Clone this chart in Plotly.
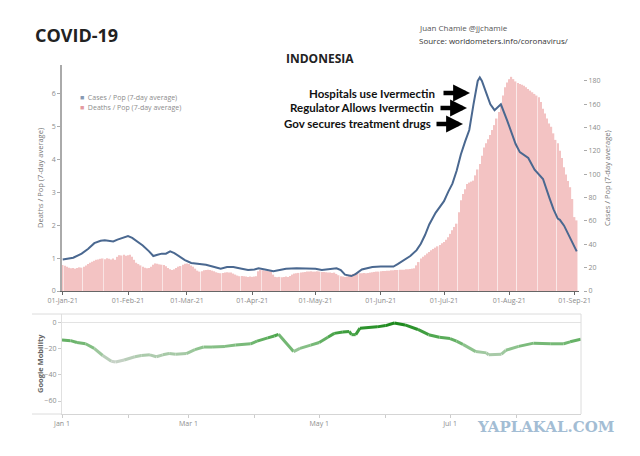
import plotly.graph_objects as go
import pandas as pd

# ---------------- data ----------------
start_date = "2021-01-01"
# Deaths per million (7-day average), daily from 01-Jan-21
deaths_per_million = [
    0.79,0.77,0.74,0.71,0.69,0.70,0.68,0.70,0.72,0.71,0.74,0.78,0.82,0.86,0.89,0.92,0.95,0.96,0.98,0.99,0.97,1.00,0.98,0.96,0.99,0.95,1.04,1.09,1.08,1.10,1.07,
    1.09,1.10,1.04,0.95,0.86,0.82,0.78,0.74,0.71,0.69,0.70,0.74,0.80,0.84,0.83,0.81,0.80,0.79,0.75,0.70,0.66,0.64,0.66,0.70,0.74,0.76,0.80,0.83,
    0.84,0.82,0.78,0.74,0.68,0.62,0.59,0.60,0.63,0.64,0.65,0.64,0.62,0.60,0.57,0.55,0.54,0.55,0.56,0.57,0.56,0.56,0.53,0.50,0.47,0.45,0.46,0.45,0.44,0.43,0.44,
    0.43,0.44,0.45,0.60,0.64,0.63,0.62,0.61,0.60,0.60,0.50,0.43,0.42,0.43,0.42,0.43,0.44,0.43,0.46,0.50,0.53,0.54,0.55,0.56,0.57,0.58,0.59,0.59,0.60,0.59,
    0.59,0.60,0.59,0.58,0.58,0.57,0.56,0.56,0.55,0.56,0.52,0.48,0.45,0.44,0.43,0.44,0.47,0.50,0.52,0.54,0.55,0.54,0.54,0.55,0.54,0.55,0.56,0.57,0.58,0.59,0.59,
    0.60,0.61,0.61,0.62,0.62,0.63,0.63,0.64,0.64,0.65,0.65,0.65,0.66,0.66,0.67,0.68,0.69,0.78,0.88,0.99,1.04,1.09,1.14,1.19,1.24,1.28,1.32,1.36,1.40,1.45,
    1.49,1.56,1.64,1.74,1.85,1.95,2.05,2.40,2.76,2.95,3.10,3.26,3.30,3.33,3.36,3.52,3.70,3.87,4.12,4.37,4.50,4.62,4.75,4.90,5.05,5.25,5.45,5.70,5.95,6.20,6.35,
    6.45,6.52,6.45,6.38,6.33,6.30,6.28,6.25,6.20,6.15,6.10,6.05,6.00,5.95,5.90,5.75,5.55,5.40,5.25,5.10,5.00,4.80,4.60,4.50,4.27,4.05,3.77,3.55,3.35,3.16,2.80,
    2.25,2.15,
]

# Cases per million (7-day average)
cases_dates = [
    "2021-01-01","2021-01-04","2021-01-06","2021-01-10","2021-01-13","2021-01-16","2021-01-19","2021-01-21","2021-01-23","2021-01-25",
    "2021-01-27","2021-01-30","2021-02-01","2021-02-03","2021-02-06","2021-02-08","2021-02-11","2021-02-13","2021-02-15","2021-02-17",
    "2021-02-19","2021-02-21","2021-02-23","2021-02-25","2021-02-28","2021-03-03","2021-03-07","2021-03-10","2021-03-14","2021-03-17",
    "2021-03-20","2021-03-23","2021-03-27","2021-03-30","2021-04-02","2021-04-04","2021-04-07","2021-04-11","2021-04-14","2021-04-17",
    "2021-04-22","2021-04-27","2021-05-01","2021-05-04","2021-05-08","2021-05-11","2021-05-13","2021-05-15","2021-05-18","2021-05-20",
    "2021-05-23","2021-05-28","2021-06-01","2021-06-04","2021-06-07","2021-06-09","2021-06-11","2021-06-13","2021-06-15","2021-06-18",
    "2021-06-20","2021-06-22","2021-06-24","2021-06-27","2021-07-01","2021-07-03","2021-07-05","2021-07-07","2021-07-09","2021-07-11",
    "2021-07-13","2021-07-15","2021-07-17","2021-07-18","2021-07-19","2021-07-21","2021-07-23","2021-07-25","2021-07-28","2021-07-31",
    "2021-08-02","2021-08-04","2021-08-06","2021-08-10","2021-08-13","2021-08-17","2021-08-20","2021-08-22","2021-08-24","2021-08-25",
    "2021-08-27","2021-08-29","2021-09-01","2021-09-02",
]
cases_per_million = [
    27,28,28.5,32,36,41,43,43.5,43,42.5,
    44,46,47,45.5,42,39,34,30,31,32,
    32,34,32.5,30,26.5,24,23,22.5,20.5,19,
    20.5,20.5,19,18,18.5,19.5,18.5,17,18,19,
    19.5,19.5,19,18,18.5,19.5,18,14,12.8,14.5,
    18.5,20.5,21,21,21,23,25.5,27.5,30,35,
    40.5,48,57,67,77,85,92,103,117,128,
    138,160,180,183,180,170,160,155,160,146,
    135,126,119,114,104,96,80,70,62,61,
    56,49,38,34,
]

# Google mobility index
mobility_dates = [
    "2021-01-01","2021-01-05","2021-01-08","2021-01-12","2021-01-16","2021-01-20","2021-01-24","2021-01-26","2021-01-30","2021-02-04",
    "2021-02-07","2021-02-11","2021-02-14","2021-02-17","2021-02-20","2021-02-23","2021-02-28","2021-03-04","2021-03-08","2021-03-12",
    "2021-03-18","2021-03-23","2021-03-30","2021-04-02","2021-04-07","2021-04-10","2021-04-12","2021-04-19","2021-04-22","2021-04-27",
    "2021-05-01","2021-05-05","2021-05-08","2021-05-12","2021-05-15","2021-05-16","2021-05-18","2021-05-20","2021-05-28","2021-06-01",
    "2021-06-05","2021-06-10","2021-06-16","2021-06-21","2021-06-26","2021-07-01","2021-07-04","2021-07-07","2021-07-13","2021-07-18",
    "2021-07-19","2021-07-25","2021-07-27","2021-08-02","2021-08-09","2021-08-17","2021-08-23","2021-08-26","2021-08-31",
]
mobility = [
    -13,-13.6,-15,-16,-19.5,-25,-29.5,-30,-28.5,-26,
    -25,-24.5,-26,-24.5,-23.5,-24,-23.5,-20.5,-18.5,-18.5,
    -18,-17,-16,-14,-11.5,-10,-8.7,-22,-19.5,-17,
    -15,-11,-8,-7,-6.5,-9,-9,-4,-3,-2,
    0,-1.5,-5,-9,-11,-12,-14,-16.5,-22,-23,
    -24.5,-24,-21,-18,-15.5,-16,-16,-14.5,-12.5,
]

main_ticks_left = [0, 1, 2, 3, 4, 5, 6]
main_ticks_right = [0, 20, 40, 60, 80, 100, 120, 140, 160, 180]
mob_ticks = [0, -20, -40, -60]
mob_major_dates = ["2021-01-01", "2021-03-01", "2021-05-01", "2021-07-01"]
mob_major_text = ["Jan 1", "Mar 1", "May 1", "Jul 1"]
mob_minor_dates = ["2021-02-01", "2021-04-01", "2021-06-01", "2021-08-01"]

# ---------------- helpers ----------------
W, H = 640, 456
def px(x):
    return x / W
def py(y):
    return 1 - y / H

def mob_color(v):
    stops = [(-30, (200, 210, 200)), (-20, (145, 196, 145)), (-10, (80, 168, 80)), (0, (25, 135, 25))]
    if v <= stops[0][0]:
        c = stops[0][1]
    elif v >= stops[-1][0]:
        c = stops[-1][1]
    else:
        for (v0, c0), (v1, c1) in zip(stops[:-1], stops[1:]):
            if v0 <= v <= v1:
                t = (v - v0) / (v1 - v0)
                c = tuple(round(a + (b - a) * t) for a, b in zip(c0, c1))
                break
    return "rgb(%d,%d,%d)" % c

FONT = "Open Sans"
TICKC = "#8c8c8c"

death_dates = pd.date_range(start_date, periods=len(deaths_per_million), freq="D")

fig = go.Figure()

fig.add_trace(go.Bar(
    x=death_dates, y=deaths_per_million, name="Deaths / Pop (7-day average)",
    marker=dict(color="#f3c3c3", line=dict(width=0)),
    xaxis="x", yaxis="y", showlegend=False,
))
fig.add_trace(go.Scatter(
    x=cases_dates, y=cases_per_million, name="Cases / Pop (7-day average)",
    mode="lines", line=dict(color="#4a6890", width=2),
    xaxis="x", yaxis="y2", showlegend=False,
))

# mobility: gradient-colored segments
for i in range(len(mobility) - 1):
    fig.add_trace(go.Scatter(
        x=mobility_dates[i:i + 2], y=mobility[i:i + 2], mode="lines",
        line=dict(color=mob_color((mobility[i] + mobility[i + 1]) / 2), width=3),
        xaxis="x3", yaxis="y3", showlegend=False, hoverinfo="skip",
    ))

tickfont = dict(family=FONT, size=7, color=TICKC)

fig.update_layout(
    width=W, height=H,
    margin=dict(l=0, r=0, t=0, b=0),
    paper_bgcolor="white", plot_bgcolor="white",
    bargap=0.3,
    showlegend=False,
    xaxis=dict(
        domain=[px(62), px(579)],
        range=["2020-12-31 16:00", "2021-09-03 02:00"],
        type="date", tickformat="%d-%b-%y", dtick="M1", tick0="2021-01-01",
        ticks="outside", ticklen=3, tickcolor="#666",
        showline=True, linecolor="#666", linewidth=1,
        showgrid=False, zeroline=False, tickfont=tickfont, anchor="y",
        automargin=False,
    ),
    yaxis=dict(
        domain=[py(291), py(65)], range=[0, 6.88],
        tickvals=main_ticks_left, ticks="outside", ticklen=3, tickcolor="#aaa",
        showline=True, linecolor="#aaa", linewidth=1.5,
        showgrid=False, zeroline=False, tickfont=tickfont, anchor="x",
        automargin=False,
    ),
    yaxis2=dict(
        overlaying="y", side="right", range=[0, 193.7],
        tickvals=main_ticks_right, ticks="outside", ticklen=3, tickcolor="#aaa",
        showline=False, showgrid=False, zeroline=False, tickfont=tickfont,
        anchor="free", position=px(583), automargin=False,
    ),
    xaxis3=dict(
        domain=[px(62), px(581)],
        range=["2021-01-01", "2021-08-31 02:00"], type="date",
        tickvals=mob_major_dates, ticktext=mob_major_text,
        ticks="outside", ticklen=3, tickcolor="#ccc",
        minor=dict(tickvals=mob_minor_dates, ticks="outside", ticklen=3, tickcolor="#ccc"),
        showline=True, linecolor="#d5d5d5", linewidth=1,
        showgrid=False, zeroline=False, tickfont=tickfont, anchor="y3",
        automargin=False,
    ),
    yaxis3=dict(
        domain=[py(414), py(314)], range=[-70, 6.9],
        tickvals=mob_ticks, ticks="outside", ticklen=3, tickcolor="#ccc",
        showline=True, linecolor="#e0e0e0", linewidth=1,
        showgrid=False, zeroline=True, zerolinecolor="#e3e3e3", zerolinewidth=1,
        tickfont=tickfont, anchor="x3", automargin=False,
    ),
)

# lower panel frame (top / right borders)
frame_col = "#dcdcdc"
fig.add_shape(type="line", xref="paper", yref="paper", x0=px(32), x1=px(581), y0=py(314), y1=py(314), line=dict(color=frame_col, width=1))
fig.add_shape(type="line", xref="paper", yref="paper", x0=px(32), x1=px(62), y0=py(414), y1=py(414), line=dict(color=frame_col, width=1))
fig.add_shape(type="line", xref="paper", yref="paper", x0=px(581), x1=px(581), y0=py(414), y1=py(314), line=dict(color=frame_col, width=1))

ann = []
def text(x, y, s, size, color="#222", bold=False, xanchor="left", angle=0, family=FONT):
    ann.append(dict(
        x=px(x), y=py(y), xref="paper", yref="paper", text=("<b>%s</b>" % s) if bold else s,
        showarrow=False, xanchor=xanchor, yanchor="middle", textangle=angle,
        font=dict(family=family, size=size, color=color),
    ))

text(33, 35, "COVID-19", 18, "#222", bold=True)
text(417, 28, "Juan Chamie @jjchamie", 8, "#555")
text(417, 40, "Source: worldometers.info/coronavirus/", 8, "#333")
text(320, 58, "INDONESIA", 12, "#222", bold=True, xanchor="center")

text(437, 93, "Hospitals use Ivermectin", 11.5, "#111", bold=True, xanchor="right", family="Lato")
text(436, 108, "Regulator Allows Ivermectin", 11.5, "#111", bold=True, xanchor="right", family="Lato")
text(433, 124, "Gov secures treatment drugs", 11.5, "#111", bold=True, xanchor="right", family="Lato")
for (xh, yh, L) in [(470, 93, 28), (467, 108, 28), (463, 124, 28)]:
    ann.append(dict(
        x=px(xh), y=py(yh), xref="paper", yref="paper", text="",
        showarrow=True, ax=-L, ay=0, axref="pixel", ayref="pixel",
        arrowhead=2, arrowsize=0.75, arrowwidth=4.5, arrowcolor="#000",
    ))

# legend
text(78, 97, "<span style='color:#8799b3'>■</span>  Cases / Pop (7-day average)", 7, "#8c8c8c")
text(78, 108, "<span style='color:#e49aa0'>■</span>  Deaths / Pop (7-day average)", 7, "#8c8c8c")

# axis titles
text(40, 178, "Deaths / Pop (7-day average)", 7.5, "#777", xanchor="center", angle=-90)
text(607, 178, "Cases / Pop (7-day average)", 7.5, "#777", xanchor="center", angle=-90)
text(40, 364, "<b>Google Mobility</b>", 7.5, "#666", xanchor="center", angle=-90)

# watermark
text(545, 427, "YAPLAKAL.COM", 15, "#a3bdd4", bold=True, xanchor="center", family="DejaVu Serif")

fig.update_layout(annotations=ann)

fig.write_html("out.html")
